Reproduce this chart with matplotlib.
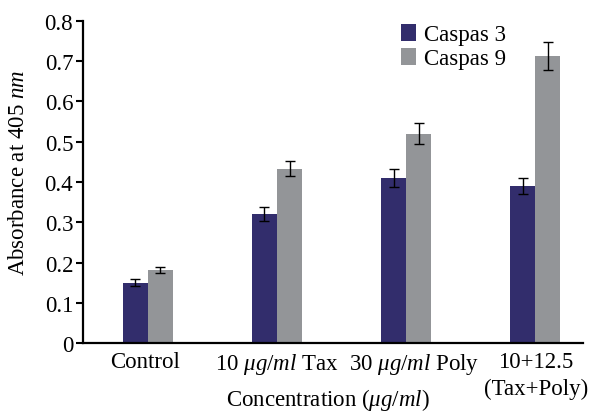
import numpy as np
import matplotlib
matplotlib.use("Agg")
from matplotlib import pyplot as plt
from matplotlib.transforms import ScaledTranslation

plt.rcParams['font.family'] = ['Liberation Serif', 'DejaVu Serif']
plt.rcParams['mathtext.fontset'] = 'custom'
plt.rcParams['mathtext.rm'] = 'Liberation Serif'
plt.rcParams['mathtext.it'] = 'Liberation Serif:italic'

# data
groups = ["Control", "10 $\\mathit{\\mu g/ml}$ Tax", "30 $\\mathit{\\mu g/ml}$ Poly",
          "10+12.5\n(Tax+Poly)"]
casp3 = [0.15, 0.32, 0.41, 0.39]
casp3_err = [0.008, 0.017, 0.022, 0.02]
casp9 = [0.182, 0.433, 0.52, 0.712]
casp9_err = [0.007, 0.019, 0.026, 0.035]

c3_color = "#322d6c"
c9_color = "#939598"
fs = 16.5

fig = plt.figure(figsize=(5.92, 4.14), dpi=100)
ax = fig.add_axes([0.140, 0.169, 0.845, 0.778])

x = np.arange(len(groups))
w = 0.194
err_kw = dict(ecolor="black", elinewidth=1, capsize=3.5, capthick=1)
ax.bar(x - w/2, casp3, w, yerr=casp3_err, color=c3_color, label="Caspas 3",
       error_kw=err_kw)
ax.bar(x + w/2, casp9, w, yerr=casp9_err, color=c9_color, label="Caspas 9",
       error_kw=err_kw)

ax.set_xlim(-0.504, 3.372)
ax.set_ylim(0, 0.8)
ax.set_yticks(np.arange(0, 0.81, 0.1))
ax.set_yticklabels(["0", "0.1", "0.2", "0.3", "0.4", "0.5", "0.6", "0.7", "0.8"])
ax.set_xticks(x)
ax.set_xticklabels(groups)
ax.tick_params(axis='x', length=0, labelsize=fs, pad=6)
ax.tick_params(axis='y', length=5, width=1.5, labelsize=fs, pad=2)
# small horizontal nudges so labels sit as in the original
shifts = [-3, 0, 8, 1]
for lab, dx in zip(ax.get_xticklabels(), shifts):
    lab.set_linespacing(1.35)
    lab.set_transform(lab.get_transform() + ScaledTranslation(dx/100, 0, fig.dpi_scale_trans))
for s in ["top", "right"]:
    ax.spines[s].set_visible(False)
for s in ["left", "bottom"]:
    ax.spines[s].set_linewidth(1.6)

fig.text(19/592, 1 - 173/414, "Absorbance at 405 $\\mathit{nm}$", fontsize=fs,
         rotation=90, ha="center", va="center")
fig.text(328/592, 1 - 400/414, "Concentration ($\\mathit{\\mu g/ml}$)", fontsize=fs,
         ha="center", va="center")

ax.legend(loc="upper left", bbox_to_anchor=(0.618, 1.02), frameon=False,
          fontsize=fs, handlelength=0.65, handleheight=0.8, handletextpad=0.35,
          labelspacing=0.1, borderaxespad=0)

fig.savefig("out.png", dpi=100)
